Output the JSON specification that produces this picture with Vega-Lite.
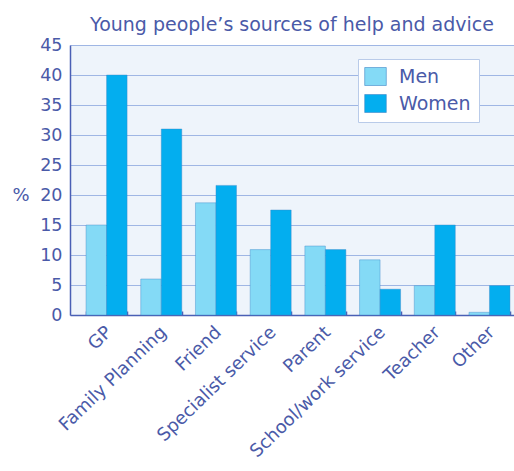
{
  "$schema": "https://vega.github.io/schema/vega-lite/v6.json",
  "width": 444,
  "height": 270,
  "autosize": {"type": "none"},
  "padding": {"left": 70, "top": 45, "right": 0, "bottom": 156},
  "background": "#ffffff",
  "title": {
    "text": "Young people’s sources of help and advice",
    "font": "DejaVu Sans",
    "fontSize": 19,
    "fontWeight": "normal",
    "color": "#4a5aa8",
    "anchor": "middle",
    "frame": "group",
    "offset": 1
  },
  "config": {
    "view": {"fill": "#eef4fb", "stroke": null},
    "font": "DejaVu Sans"
  },
  "data": {
    "values": [
      {"source": "GP", "sex": "Men", "pct": 15},
      {"source": "GP", "sex": "Women", "pct": 40},
      {"source": "Family Planning", "sex": "Men", "pct": 6},
      {"source": "Family Planning", "sex": "Women", "pct": 31},
      {"source": "Friend", "sex": "Men", "pct": 18.7},
      {"source": "Friend", "sex": "Women", "pct": 21.6},
      {"source": "Specialist service", "sex": "Men", "pct": 10.9},
      {"source": "Specialist service", "sex": "Women", "pct": 17.5},
      {"source": "Parent", "sex": "Men", "pct": 11.5},
      {"source": "Parent", "sex": "Women", "pct": 10.9},
      {"source": "School/work service", "sex": "Men", "pct": 9.2},
      {"source": "School/work service", "sex": "Women", "pct": 4.3},
      {"source": "Teacher", "sex": "Men", "pct": 4.9},
      {"source": "Teacher", "sex": "Women", "pct": 15},
      {"source": "Other", "sex": "Men", "pct": 0.45},
      {"source": "Other", "sex": "Women", "pct": 4.9}
    ]
  },
  "mark": {"type": "bar", "stroke": "#3f86c8", "strokeWidth": 0.6, "strokeOpacity": 0.7},
  "encoding": {
    "x": {
      "field": "source",
      "type": "nominal",
      "sort": null,
      "scale": {"paddingInner": 0.25, "paddingOuter": 0.1835, "align": 0.8},
      "axis": {
        "title": null,
        "labelAngle": -44,
        "labelFont": "DejaVu Sans",
        "labelFontSize": 18,
        "labelColor": "#4a5aa8",
        "labelPadding": 12,
        "labelOffset": -4,
        "labelLimit": 0,
        "labelOverlap": false,
        "tickBand": "extent",
        "tickSize": -4,
        "tickColor": "#4a5fb5",
        "tickWidth": 1.5,
        "domainColor": "#4a5fb5",
        "domainWidth": 1.5,
        "grid": false
      }
    },
    "xOffset": {"field": "sex", "type": "nominal", "sort": ["Men", "Women"]},
    "y": {
      "field": "pct",
      "type": "quantitative",
      "scale": {"domain": [0, 45], "nice": false},
      "axis": {
        "values": [0, 5, 10, 15, 20, 25, 30, 35, 40, 45],
        "title": "%",
        "titleAngle": 0,
        "titleAlign": "left",
        "titleBaseline": "middle",
        "titleX": -58,
        "titleY": 150,
        "titleFont": "DejaVu Sans",
        "titleFontSize": 18,
        "titleFontWeight": "normal",
        "titleColor": "#4a5aa8",
        "labelFont": "DejaVu Sans",
        "labelFontSize": 17.5,
        "labelColor": "#4a5aa8",
        "labelPadding": 8,
        "tickSize": 0,
        "domainColor": "#4a5fb5",
        "domainWidth": 1.5,
        "gridColor": "#9fb6e4",
        "gridWidth": 1
      }
    },
    "color": {
      "field": "sex",
      "type": "nominal",
      "sort": ["Men", "Women"],
      "scale": {"domain": ["Men", "Women"], "range": ["#84daf6", "#03aeef"]},
      "legend": {
        "title": null,
        "orient": "none",
        "legendX": 288,
        "legendY": 14,
        "fillColor": "#ffffff",
        "strokeColor": "#b9cbe9",
        "padding": 8,
        "symbolType": "M-1.2,-1H1.2V1H-1.2Z",
        "symbolSize": 324,
        "symbolStrokeColor": "#3f86c8",
        "symbolStrokeWidth": 0.6,
        "symbolOpacity": 1,
        "labelFont": "DejaVu Sans",
        "labelFontSize": 19,
        "labelColor": "#4a5aa8",
        "labelOffset": 14,
        "rowPadding": 6
      }
    }
  }
}
